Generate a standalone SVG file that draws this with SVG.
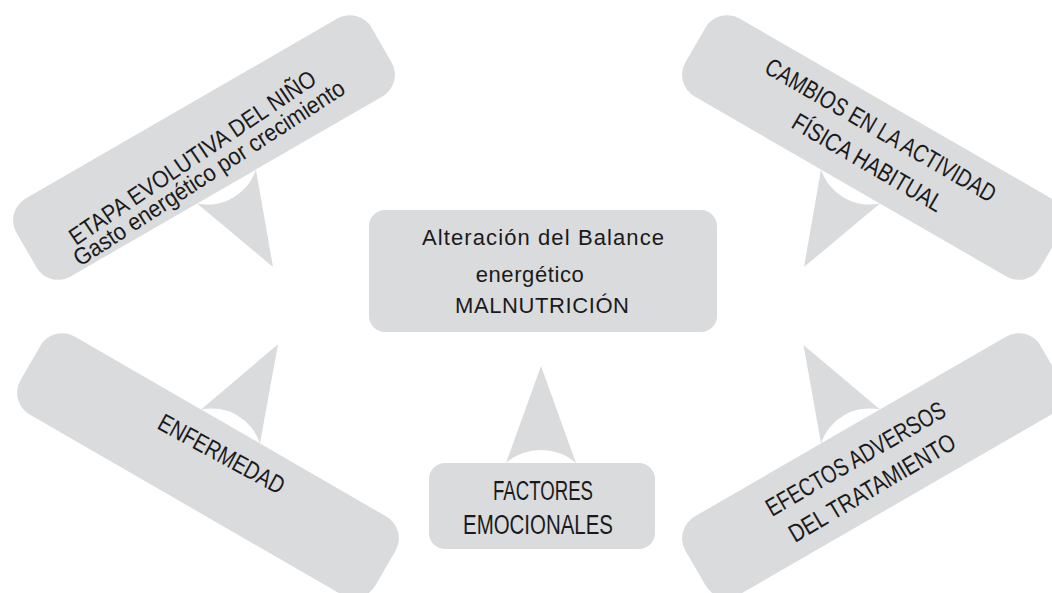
<svg xmlns="http://www.w3.org/2000/svg" width="1052" height="593" viewBox="0 0 1052 593">
<style>
.box{fill:#dadbdd;}
.tri{fill:#dadbdd;}
.dome{fill:#ffffff;}
.t{font-family:"Liberation Sans Narrow","Liberation Sans",Arial,sans-serif;fill:#1a1a1a;}
.c{font-family:"Liberation Sans",Arial,sans-serif;fill:#1a1a1a;font-size:22px;}
</style>
<rect width="1052" height="593" fill="#ffffff"/>
<g id="connectors">
  <g transform="translate(204,147.5) rotate(-30)">
    <polygon class="tri" points="-34,45 34,45 0,138"/>
    <path class="dome" d="M-34,45 A51,51 0 0 0 34,45 Z"/>
  </g>
  <g transform="translate(873,147.5) rotate(30)">
    <polygon class="tri" points="-34,45 34,45 0,138"/>
    <path class="dome" d="M-34,45 A51,51 0 0 0 34,45 Z"/>
  </g>
  <g transform="translate(208,465.5) rotate(30)">
    <polygon class="tri" points="-34,-45 34,-45 0,-140"/>
    <path class="dome" d="M-34,-45 A51,51 0 0 1 34,-45 Z"/>
  </g>
  <g transform="translate(873,465.5) rotate(-30)">
    <polygon class="tri" points="-34,-45 34,-45 0,-139"/>
    <path class="dome" d="M-34,-45 A51,51 0 0 1 34,-45 Z"/>
  </g>
  <polygon class="tri" points="506,463 576,463 541,366"/>
  <path class="dome" d="M506,463 A53.6,53.6 0 0 1 576,463 Z"/>
</g>
<g id="node-etapa">
  <rect class="box" transform="translate(204,147.5) rotate(-30)" x="-205" y="-45" width="410" height="90" rx="25"/>
  <text class="t" font-size="24" transform="translate(76,246) rotate(-34)" textLength="292" lengthAdjust="spacingAndGlyphs">ETAPA EVOLUTIVA DEL NIÑO</text>
  <text class="t" font-size="24" transform="translate(80,267) rotate(-33.2)" textLength="319" lengthAdjust="spacingAndGlyphs">Gasto energético por crecimiento</text>
</g>
<g id="node-cambios">
  <rect class="box" transform="translate(873,147.5) rotate(30)" x="-205" y="-45" width="410" height="90" rx="25"/>
  <text class="t" font-size="25" transform="translate(763,72) rotate(30)" textLength="262" lengthAdjust="spacingAndGlyphs">CAMBIOS EN LA ACTIVIDAD</text>
  <text class="t" font-size="25" transform="translate(790,127) rotate(30.3)" textLength="170" lengthAdjust="spacingAndGlyphs">FÍSICA HABITUAL</text>
</g>
<g id="node-enfermedad">
  <rect class="box" transform="translate(208,465.5) rotate(30)" x="-205" y="-45" width="410" height="90" rx="25"/>
  <text class="t" font-size="25" transform="translate(156,428) rotate(28.6)" textLength="140" lengthAdjust="spacingAndGlyphs">ENFERMEDAD</text>
</g>
<g id="node-efectos">
  <rect class="box" transform="translate(873,465.5) rotate(-30)" x="-205" y="-45" width="410" height="90" rx="25"/>
  <text class="t" font-size="25" transform="translate(772,517) rotate(-30.1)" textLength="203" lengthAdjust="spacingAndGlyphs">EFECTOS ADVERSOS</text>
  <text class="t" font-size="25" transform="translate(795,543) rotate(-30.5)" textLength="189" lengthAdjust="spacingAndGlyphs">DEL TRATAMIENTO</text>
</g>
<g id="node-centro">
  <rect class="box" x="369" y="210" width="348" height="122" rx="16"/>
  <text class="c" x="422" y="245" textLength="242">Alteración del Balance</text>
  <text class="c" x="530" y="282" text-anchor="middle" letter-spacing="0.6">energético</text>
  <text class="c" x="455" y="313" textLength="174">MALNUTRICIÓN</text>
</g>
<g id="node-factores">
  <rect class="box" x="429" y="463" width="226" height="86" rx="16"/>
  <text class="t" font-size="27" x="493" y="500" textLength="100" lengthAdjust="spacingAndGlyphs">FACTORES</text>
  <text class="t" font-size="27" x="463" y="534" textLength="150" lengthAdjust="spacingAndGlyphs">EMOCIONALES</text>
</g>
</svg>
